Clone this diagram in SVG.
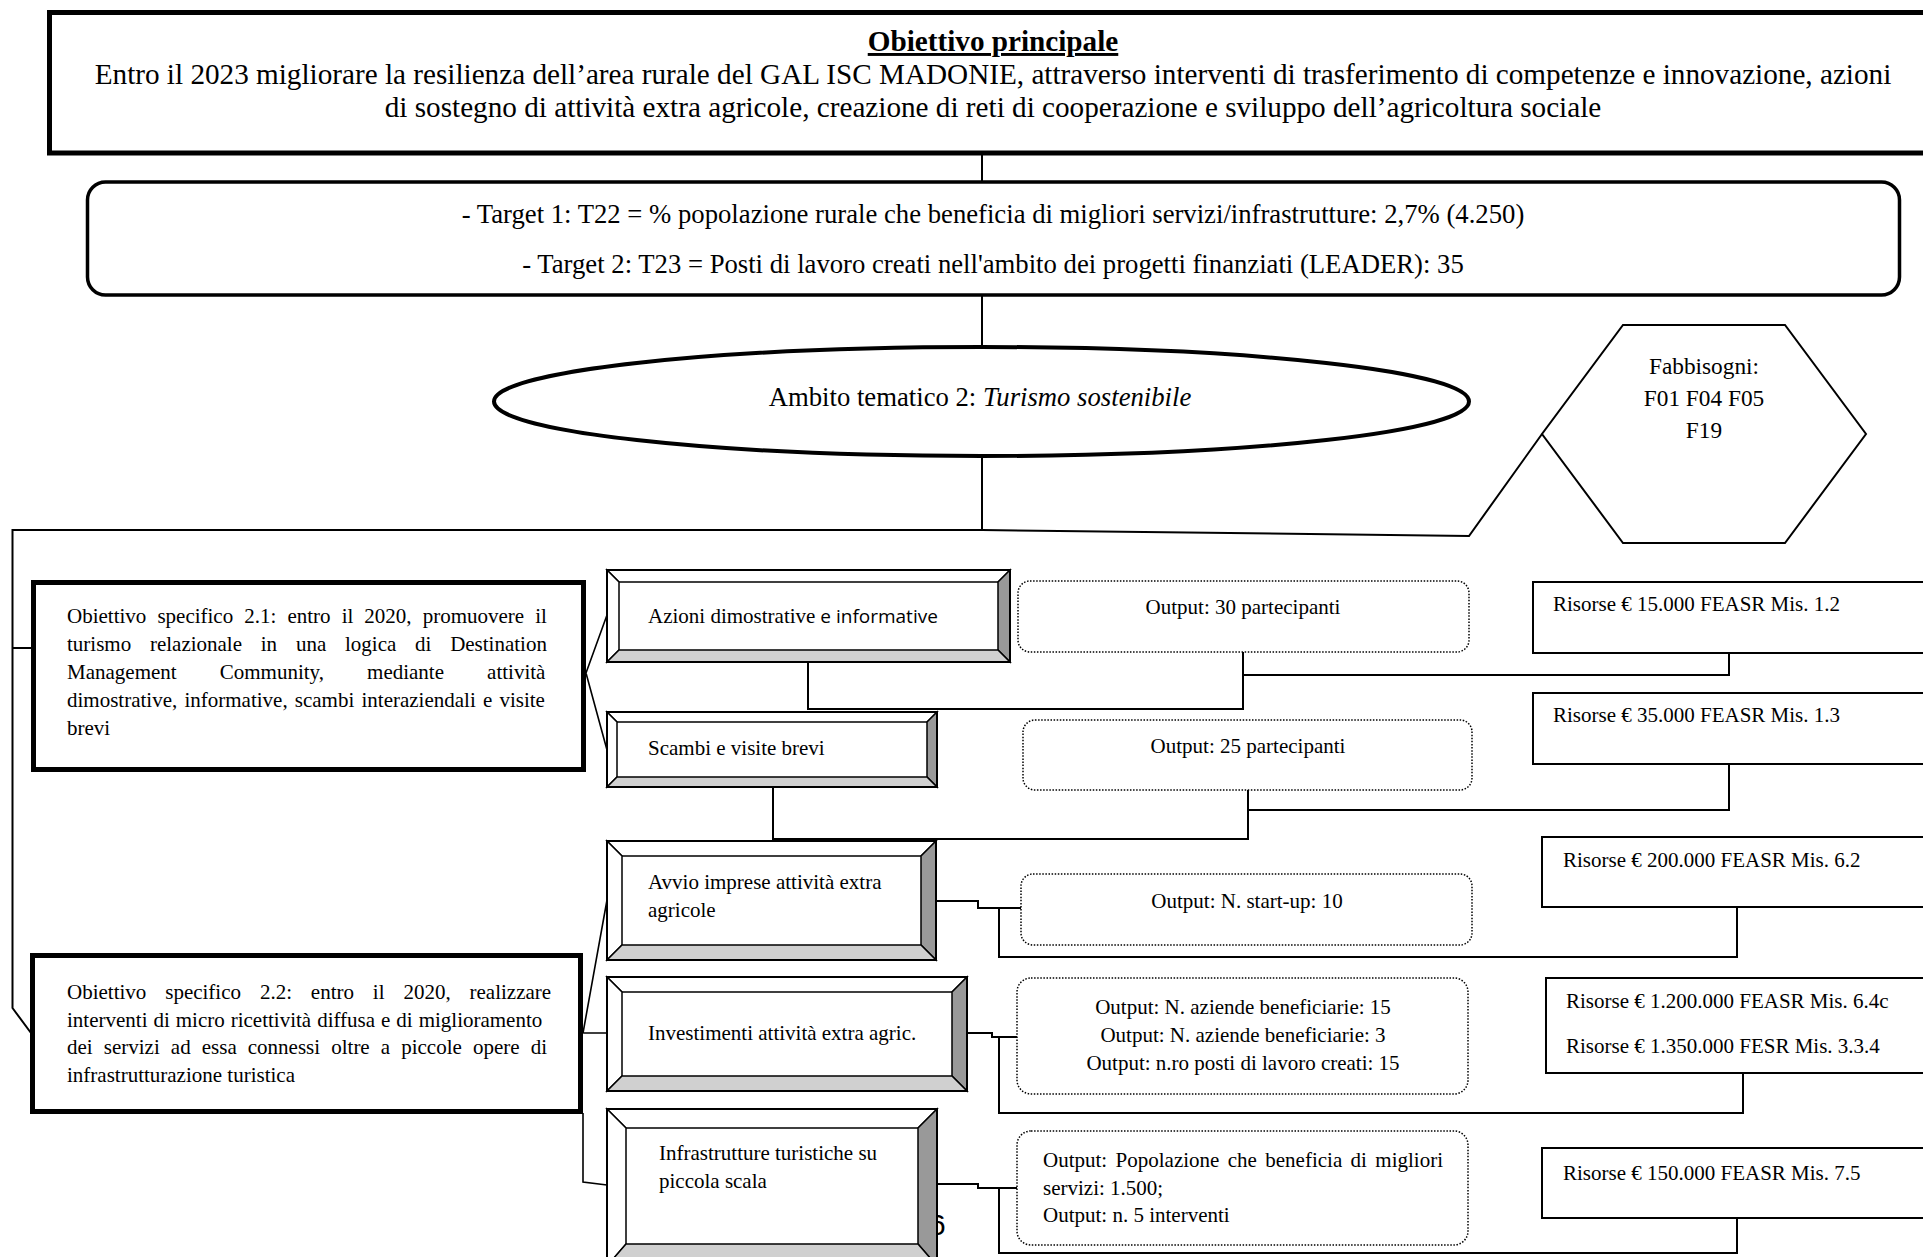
<svg xmlns="http://www.w3.org/2000/svg" width="1923" height="1257" viewBox="0 0 1923 1257">
<style>
text { font-family: "Liberation Serif", "Times New Roman", serif; fill: #000; }
.b { font-size: 21px; }
.conn { fill: none; stroke: #000; stroke-width: 2; }
.lnk { fill: none; stroke: #000; stroke-width: 1.6; }
.thick { fill: #fff; stroke: #000; stroke-width: 5; }
.res { fill: #fff; stroke: #000; stroke-width: 2; }
.out { fill: #fff; stroke: #000; stroke-width: 1.5; stroke-dasharray: 1.5 1.6; }
.bl { fill: #fff; stroke: #000; stroke-width: 1.5; stroke-linejoin: miter; }
.br { fill: #999; stroke: #000; stroke-width: 1.5; }
.bb { fill: #d0d0d0; stroke: #000; stroke-width: 1.5; }
.bo { fill: none; stroke: #000; stroke-width: 2; }
.sans { font-family: "Open Sans", "Liberation Sans", sans-serif; }
</style>
<rect x="0" y="0" width="1923" height="1257" fill="#fff"/>

<g id="connectors">
  <path class="conn" d="M982 155 V182"/>
  <path class="conn" d="M982 296 V347"/>
  <path class="conn" d="M982 456 V530"/>
  <path class="conn" d="M1542 434 L1469 536 L982 530 H12.5 V1008 L31 1033"/>
  <path class="conn" d="M12.5 648 H33"/>
  <path class="lnk" d="M586 673 L607 615 M586 673 L607 750"/>
  <path class="lnk" d="M583 1033 L607 900 M583 1033 H607 M583 1113 V1182 L607 1185"/>
  <path class="conn" d="M808 662 V709 H1243 V652 M1243 675 H1729 V653"/>
  <path class="conn" d="M773 787 V839 H1248 V790 M1248 810 H1729 V764"/>
  <path class="conn" d="M936 901 H978 V908 H1021 M999 908 V957 H1737 V907"/>
  <path class="conn" d="M967 1033 H992 V1037 H1017 M999 1037 V1113 H1743 V1073"/>
  <path class="conn" d="M937 1184 H978 V1188 H1017 M999 1188 V1253 H1737 V1218"/>
</g>

<g id="obiettivo-principale">
  <rect class="thick" x="49.5" y="12.5" width="1900" height="140.5"/>
  <text x="993" y="51" font-size="29.2" font-weight="bold" text-anchor="middle" text-decoration="underline">Obiettivo principale</text>
  <text x="993" y="84" font-size="29.2" text-anchor="middle">Entro il 2023 migliorare la resilienza dell’area rurale del GAL ISC MADONIE, attraverso interventi di trasferimento di competenze e innovazione, azioni</text>
  <text x="993" y="117" font-size="29.2" text-anchor="middle">di sostegno di attività extra agricole, creazione di reti di cooperazione e sviluppo dell’agricoltura sociale</text>
</g>

<g id="target">
  <rect x="87.5" y="182" width="1812" height="113" rx="18" fill="#fff" stroke="#000" stroke-width="3.5"/>
  <text x="993" y="223" font-size="26.7" text-anchor="middle">- Target 1: T22 = % popolazione rurale che beneficia di migliori servizi/infrastrutture: 2,7% (4.250)</text>
  <text x="993" y="273" font-size="26.7" text-anchor="middle">- Target 2: T23 = Posti di lavoro creati nell'ambito dei progetti finanziati (LEADER): 35</text>
</g>

<g id="ambito">
  <ellipse cx="981.5" cy="401.5" rx="487.5" ry="54.5" fill="#fff" stroke="#000" stroke-width="4"/>
  <text x="980" y="406" font-size="26.7" text-anchor="middle">Ambito tematico 2: <tspan font-style="italic">Turismo sostenibile</tspan></text>
</g>

<g id="fabbisogni">
  <polygon points="1623,325 1785,325 1866,434 1785,543 1623,543 1542,434" fill="#fff" stroke="#000" stroke-width="2"/>
  <text x="1704" y="374" font-size="23.3" text-anchor="middle">Fabbisogni:</text>
  <text x="1704" y="406" font-size="23.3" text-anchor="middle">F01 F04 F05</text>
  <text x="1704" y="438" font-size="23.3" text-anchor="middle">F19</text>
</g>

<g id="obiettivo-2-1">
  <rect class="thick" x="33.5" y="582.5" width="550" height="187"/>
  <text class="b" x="67" y="623" word-spacing="5.82">Obiettivo specifico 2.1: entro il 2020, promuovere il</text>
  <text class="b" x="67" y="651" word-spacing="13.51">turismo relazionale in una logica di Destination</text>
  <text class="b" x="67" y="679" word-spacing="37.85">Management Community, mediante attività</text>
  <text class="b" x="67" y="707" word-spacing="1.93">dimostrative, informative, scambi interaziendali e visite</text>
  <text class="b" x="67" y="735">brevi</text>
</g>

<g id="obiettivo-2-2">
  <rect class="thick" x="32.5" y="955.5" width="548" height="156"/>
  <text class="b" x="67" y="999" word-spacing="13.63">Obiettivo specifico 2.2: entro il 2020, realizzare</text>
  <text class="b" x="67" y="1027" word-spacing="0.72">interventi di micro ricettività diffusa e di miglioramento</text>
  <text class="b" x="67" y="1054" word-spacing="5.84">dei servizi ad essa connessi oltre a piccole opere di</text>
  <text class="b" x="67" y="1082">infrastrutturazione turistica</text>
</g>

<g id="azione-1">
  <polygon class="bl" points="607,570 1010,570 998,582 619,582"/>
  <polygon class="bl" points="607,570 619,582 619,650 607,662"/>
  <polygon class="br" points="1010,570 1010,662 998,650 998,582"/>
  <polygon class="bb" points="607,662 619,650 998,650 1010,662"/>
  <rect class="bo" x="607" y="570" width="403" height="92"/>
  <text class="b" x="648" y="623">Azioni dimostrative<tspan class="sans" font-size="19"> e informative</tspan></text>
</g>

<g id="azione-2">
  <polygon class="bl" points="607,712 937,712 927,722 617,722"/>
  <polygon class="bl" points="607,712 617,722 617,777 607,787"/>
  <polygon class="br" points="937,712 937,787 927,777 927,722"/>
  <polygon class="bb" points="607,787 617,777 927,777 937,787"/>
  <rect class="bo" x="607" y="712" width="330" height="75"/>
  <text class="b" x="648" y="755">Scambi e visite brevi</text>
</g>

<g id="azione-3">
  <polygon class="bl" points="607,841 936,841 921,856 622,856"/>
  <polygon class="bl" points="607,841 622,856 622,945 607,960"/>
  <polygon class="br" points="936,841 936,960 921,945 921,856"/>
  <polygon class="bb" points="607,960 622,945 921,945 936,960"/>
  <rect class="bo" x="607" y="841" width="329" height="119"/>
  <text class="b" x="648" y="889">Avvio imprese attività extra</text>
  <text class="b" x="648" y="917">agricole</text>
</g>

<g id="azione-4">
  <polygon class="bl" points="607,977 967,977 952,992 622,992"/>
  <polygon class="bl" points="607,977 622,992 622,1076 607,1091"/>
  <polygon class="br" points="967,977 967,1091 952,1076 952,992"/>
  <polygon class="bb" points="607,1091 622,1076 952,1076 967,1091"/>
  <rect class="bo" x="607" y="977" width="360" height="114"/>
  <text class="b" x="648" y="1040">Investimenti attività extra agric.</text>
</g>

<g id="pagina">
  <text x="929" y="1235" font-size="30" font-family="Liberation Sans, sans-serif" style="font-family:'Liberation Sans', sans-serif">6</text>
</g>

<g id="azione-5">
  <polygon class="bl" points="607,1109 937,1109 918,1128 626,1128"/>
  <polygon class="bl" points="607,1109 626,1128 626,1244 607,1266"/>
  <polygon class="br" points="937,1109 937,1266 918,1244 918,1128"/>
  <polygon class="bb" points="607,1266 626,1244 918,1244 937,1266"/>
  <rect class="bo" x="607" y="1109" width="330" height="157"/>
  <text class="b" x="659" y="1160">Infrastrutture turistiche su</text>
  <text class="b" x="659" y="1188">piccola scala</text>
</g>

<g id="output-1">
  <rect class="out" x="1018" y="581" width="451" height="71" rx="12"/>
  <text class="b" x="1243" y="614" text-anchor="middle">Output: 30 partecipanti</text>
</g>
<g id="output-2">
  <rect class="out" x="1023" y="720" width="449" height="70" rx="12"/>
  <text class="b" x="1248" y="753" text-anchor="middle">Output: 25 partecipanti</text>
</g>
<g id="output-3">
  <rect class="out" x="1021" y="874" width="451" height="71" rx="12"/>
  <text class="b" x="1247" y="908" text-anchor="middle">Output: N. start-up: 10</text>
</g>
<g id="output-4">
  <rect class="out" x="1017" y="978" width="451" height="116" rx="14"/>
  <text class="b" x="1243" y="1014" text-anchor="middle">Output: N. aziende beneficiarie: 15</text>
  <text class="b" x="1243" y="1042" text-anchor="middle">Output: N. aziende beneficiarie: 3</text>
  <text class="b" x="1243" y="1070" text-anchor="middle">Output: n.ro posti di lavoro creati: 15</text>
</g>
<g id="output-5">
  <rect class="out" x="1017" y="1131" width="451" height="114" rx="14"/>
  <text class="b" x="1043" y="1167" word-spacing="3.13">Output: Popolazione che beneficia di migliori</text>
  <text class="b" x="1043" y="1195">servizi: 1.500;</text>
  <text class="b" x="1043" y="1222">Output: n. 5 interventi</text>
</g>

<g id="risorse-1">
  <rect class="res" x="1533" y="582" width="420" height="71"/>
  <text class="b" x="1553" y="611">Risorse € 15.000 FEASR Mis. 1.2</text>
</g>
<g id="risorse-2">
  <rect class="res" x="1533" y="693" width="420" height="71"/>
  <text class="b" x="1553" y="722">Risorse € 35.000 FEASR Mis. 1.3</text>
</g>
<g id="risorse-3">
  <rect class="res" x="1542" y="837" width="420" height="70"/>
  <text class="b" x="1563" y="867">Risorse € 200.000 FEASR Mis. 6.2</text>
</g>
<g id="risorse-4">
  <rect class="res" x="1546" y="978" width="420" height="95"/>
  <text class="b" x="1566" y="1008">Risorse € 1.200.000 FEASR Mis. 6.4c</text>
  <text class="b" x="1566" y="1053">Risorse € 1.350.000 FESR Mis. 3.3.4</text>
</g>
<g id="risorse-5">
  <rect class="res" x="1542" y="1148" width="420" height="70"/>
  <text class="b" x="1563" y="1180">Risorse € 150.000 FEASR Mis. 7.5</text>
</g>
</svg>
